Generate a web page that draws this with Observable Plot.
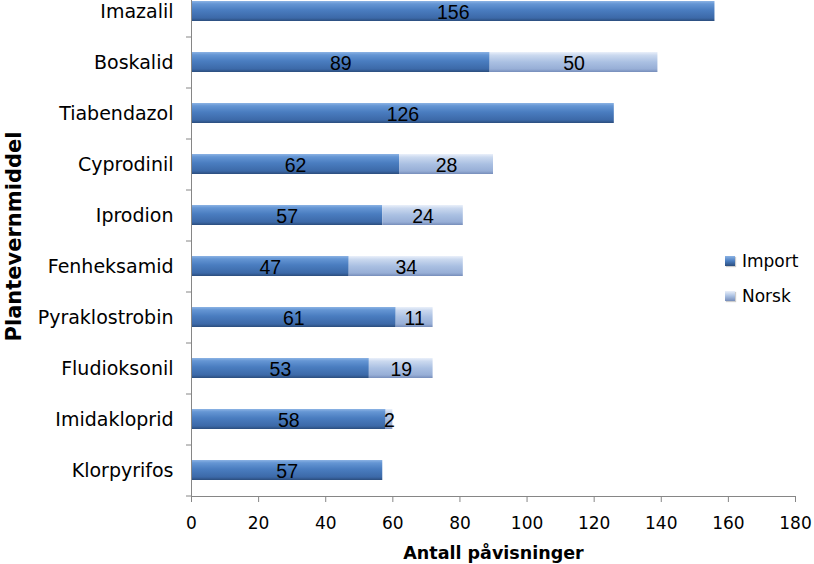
<!DOCTYPE html>
<html>
<head>
<meta charset="utf-8">
<script src="https://cdn.jsdelivr.net/npm/d3@7"></script>
<script src="https://cdn.jsdelivr.net/npm/@observablehq/plot@0.6"></script>
<style>
  body { margin: 0; background: white; }
  #wrap { position: relative; width: 814px; height: 564px; overflow: hidden; }
  .legend { position: absolute; left: 725px; font-family: "DejaVu Sans", sans-serif; font-size: 17px; color: #000; display: flex; align-items: center; }
  .legend .sw { width: 10px; height: 10px; margin-right: 7px; box-shadow: 1px 1px 1px rgba(0,0,0,0.2); }
</style>
</head>
<body>
<div id="wrap"></div>
<script>
const categories = ["Imazalil","Boskalid","Tiabendazol","Cyprodinil","Iprodion","Fenheksamid","Pyraklostrobin","Fludioksonil","Imidakloprid","Klorpyrifos"];
const importValues = [156, 89, 126, 62, 57, 47, 61, 53, 58, 57];
const norskValues = [0, 50, 0, 28, 24, 34, 11, 19, 2, 0];
const seriesNames = ["Import", "Norsk"];
const xTicks = [0, 20, 40, 60, 80, 100, 120, 140, 160, 180];
const xLabel = "Antall påvisninger";
const yLabel = "Plantevernmiddel";

const data = [];
categories.forEach((c, i) => {
  if (importValues[i] > 0) data.push({cat: c, series: "Import", value: importValues[i]});
  if (norskValues[i] > 0) data.push({cat: c, series: "Norsk", value: norskValues[i]});
});

const chart = Plot.plot({
  width: 814,
  height: 564,
  marginLeft: 191,
  marginRight: 19,
  marginTop: 0,
  marginBottom: 68,
  style: {fontFamily: "DejaVu Sans, sans-serif", background: "white", color: "#000"},
  x: {domain: [0, 180]},
  y: {domain: categories, range: [-14, 496], paddingInner: 0.6, paddingOuter: 0.3},
  color: {domain: seriesNames, range: ["url(#gradImport)", "url(#gradNorsk)"]},
  marks: [
    Plot.barX(data, {x: "value", y: "cat", fill: "series", style: "filter: drop-shadow(0px 2px 1.5px rgba(0,0,0,0.28))"}),
    Plot.text(data, Plot.stackX({x: "value", y: "cat", text: d => String(d.value), fontSize: 19.5, fontFamily: "Liberation Sans, sans-serif", fill: "#000", dy: 1})),
    Plot.frame({anchor: "bottom", stroke: "#868686"}),
    Plot.frame({anchor: "left", stroke: "#868686"}),
    Plot.axisX({ticks: xTicks, tickSize: 6, tickPadding: 14, fontSize: 17, stroke: "#868686", label: null, fill: "#000"}),
    Plot.axisY({tickSize: 0, tickPadding: 18, fontSize: 19, label: null, fill: "#000"}),
    Plot.axisY({tickSize: 5, text: null, dy: 25.5, stroke: "#868686", label: null}),
    Plot.text([xLabel], {frameAnchor: "bottom", textAnchor: "middle", dy: 62, fontSize: 17.5, fontWeight: "bold", fill: "#000"}),
    Plot.text([yLabel], {frameAnchor: "left", textAnchor: "middle", lineAnchor: "middle", rotate: -90, dx: -177, dy: -12, fontSize: 21, fontWeight: "bold", fill: "#000"})
  ]
});

// gradients for the bevelled bar look
const ns = "http://www.w3.org/2000/svg";
const defs = document.createElementNS(ns, "defs");
function grad(id, stops) {
  const g = document.createElementNS(ns, "linearGradient");
  g.setAttribute("id", id);
  g.setAttribute("x1", "0"); g.setAttribute("y1", "0");
  g.setAttribute("x2", "0"); g.setAttribute("y2", "1");
  stops.forEach(([o, c]) => {
    const s = document.createElementNS(ns, "stop");
    s.setAttribute("offset", o);
    s.setAttribute("stop-color", c);
    g.appendChild(s);
  });
  defs.appendChild(g);
}
grad("gradImport", [["0", "#8cb3e4"], ["0.14", "#6596d4"], ["0.45", "#4a7dc0"], ["0.85", "#3c69a8"], ["1", "#2b4d7d"]]);
grad("gradNorsk", [["0", "#eaf0fa"], ["0.16", "#cbd9ef"], ["0.5", "#aac0e2"], ["0.85", "#97aed6"], ["1", "#768dba"]]);
chart.insertBefore(defs, chart.firstChild);

const wrap = document.getElementById("wrap");
wrap.appendChild(chart);

const legendItems = [
  {name: seriesNames[0], top: 251, bg: "linear-gradient(#8cb3e4, #4a7dc0 50%, #2b4d7d)"},
  {name: seriesNames[1], top: 286, bg: "linear-gradient(#eaf0fa, #aac0e2 50%, #768dba)"}
];
legendItems.forEach(it => {
  const d = document.createElement("div");
  d.className = "legend";
  d.style.top = it.top + "px";
  const sw = document.createElement("div");
  sw.className = "sw";
  sw.style.background = it.bg;
  const t = document.createElement("span");
  t.textContent = it.name;
  d.appendChild(sw); d.appendChild(t);
  wrap.appendChild(d);
});
</script>
</body>
</html>
